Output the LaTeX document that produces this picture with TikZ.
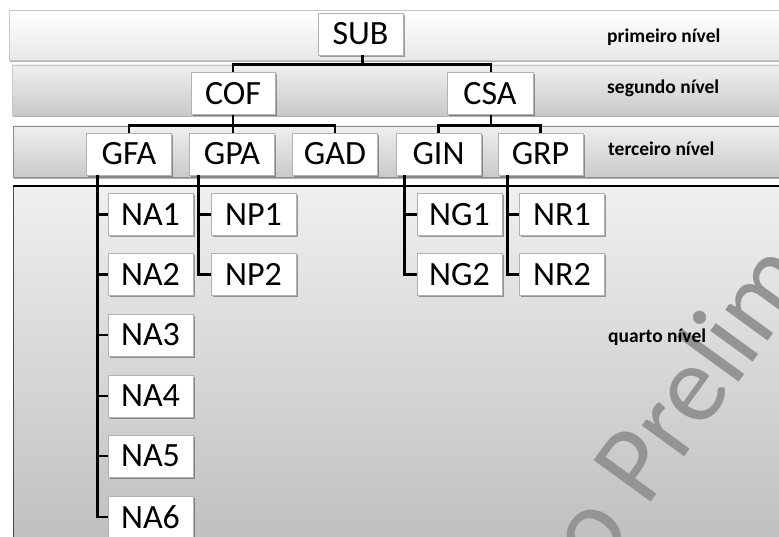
\documentclass[tikz,border=0pt]{standalone}
\usepackage{fontspec}
\setmainfont{Carlito}
\usetikzlibrary{calc,shadows}
\begin{document}
\begin{tikzpicture}[x=1pt,y=-1pt,
  box/.style={draw=black!30, fill=white, line width=0.8pt, minimum width=85pt, minimum height=42pt, inner sep=0pt,
    font=\fontsize{34}{34}\selectfont,
    drop shadow={shadow xshift=1.5pt, shadow yshift=-1.8pt, opacity=0.35, fill=black}},
  conn/.style={line width=2.8pt, draw=black, line join=miter},
  lvl/.style={anchor=base west, font=\fontsize{19.5}{19.5}\selectfont\bfseries, inner sep=0pt},
  bandshadow/.style={drop shadow={shadow xshift=1pt, shadow yshift=-2.5pt, opacity=0.3, fill=black}}]
\useasboundingbox (0,0) rectangle (779,537);
\clip (0,0) rectangle (779,537);
\fill[white] (0,0) rectangle (779,537);
% bands
\path[draw=black!22, line width=0.8pt, top color=white, bottom color=black!9, bandshadow] (9,10) rectangle (800,60);
\path[draw=black!22, line width=0.8pt, top color=black!6, bottom color=black!21, bandshadow] (12,65) rectangle (800,115);
\path[draw=black!45, line width=0.8pt, top color=black!6, bottom color=black!21, bandshadow] (13,126) rectangle (800,177);
\path[top color=black!6, bottom color=black!26] (13,186) rectangle (800,560);
\draw[black!70, line width=1pt] (13,560) -- (13,186);
\draw[black, line width=1.3pt] (13,186) -- (800,186);
% watermark
\node[rotate=54, anchor=base west, text=black!42, font=\fontsize{110}{110}\selectfont, inner sep=0pt] (wm) at (598,576) {o Prelim};
% nodes
\node[box, minimum width=85pt] (SUB) at (360.5,34) {SUB};
\node[box, minimum width=84pt] (COF) at (233,93.5) {COF};
\node[box, minimum width=86pt] (CSA) at (490,93.5) {CSA};
\node[box] (GFA) at (129,154) {GFA};
\node[box] (GPA) at (232,154) {GPA};
\node[box] (GAD) at (335,154) {GAD};
\node[box] (GIN) at (438.5,154) {GIN};
\node[box] (GRP) at (540.5,154) {GRP};
\node[box] (NA1) at (150.5,214.5) {NA1};
\node[box] (NA2) at (150.5,274.5) {NA2};
\node[box] (NA3) at (150.5,335) {NA3};
\node[box] (NA4) at (150.5,396) {NA4};
\node[box] (NA5) at (150.5,456) {NA5};
\node[box] (NA6) at (150.5,517) {NA6};
\node[box] (NP1) at (253.5,214.5) {NP1};
\node[box] (NP2) at (253.5,274.5) {NP2};
\node[box] (NG1) at (459.5,214.5) {NG1};
\node[box] (NG2) at (459.5,274.5) {NG2};
\node[box] (NR1) at (562,214.5) {NR1};
\node[box] (NR2) at (562,274.5) {NR2};
% connectors
\draw[conn] ($(SUB.south)+(2,0)$) -- ++(0,9) -| (COF.north);
\draw[conn] ($(SUB.south)+(2,0)$) -- ++(0,9) -| ($(CSA.north)+(1,0)$);
\draw[conn] (COF.south) -- ++(0,11) -| (GFA.north);
\draw[conn] (COF.south) -- (COF.south |- GPA.north);
\draw[conn] (COF.south) -- ++(0,11) -| (GAD.north);
\draw[conn] ($(CSA.south)+(1,0)$) -- ++(0,11) -| (GIN.north);
\draw[conn] ($(CSA.south)+(1,0)$) -- ++(0,11) -| (GRP.north);
\foreach \n in {NA1,NA2,NA3,NA4,NA5,NA6}
  \draw[conn] ($(GFA.south west)+(11,0)$) |- (\n.west);
\foreach \n in {NP1,NP2}
  \draw[conn] ($(GPA.south west)+(9,0)$) |- (\n.west);
\foreach \n in {NG1,NG2}
  \draw[conn] ($(GIN.south west)+(9,0)$) |- (\n.west);
\foreach \n in {NR1,NR2}
  \draw[conn] ($(GRP.south west)+(10,0)$) |- (\n.west);
% level labels
\node[lvl] (L1) at (607,43) {primeiro nível};
\node[lvl] (L2) at (607,94) {segundo nível};
\node[lvl] (L3) at (608,156) {terceiro nível};
\node[lvl] (L4) at (608,342) {quarto nível};
\end{tikzpicture}
\end{document}
